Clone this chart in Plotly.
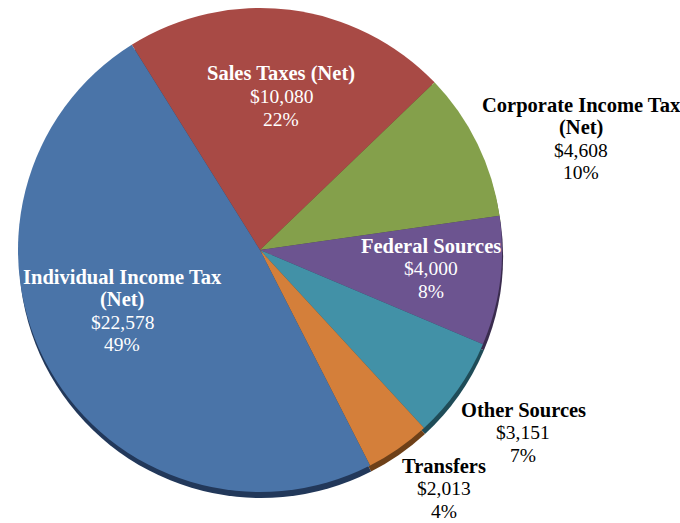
import plotly.graph_objects as go

categories = ["Sales Taxes (Net)", "Corporate Income Tax (Net)", "Federal Sources",
              "Other Sources", "Transfers", "Individual Income Tax (Net)"]
values = [10080, 4608, 4000, 3151, 2013, 22578]
pct_labels = ["22%", "10%", "8%", "7%", "4%", "49%"]
name_lines = [["Sales Taxes (Net)"], ["Corporate Income Tax", "(Net)"], ["Federal Sources"],
              ["Other Sources"], ["Transfers"], ["Individual Income Tax", "(Net)"]]
colors = ["#A84A45", "#84A04B", "#6C5490", "#4291A7", "#D47F3A", "#4A74A8"]
shadow_colors = ["#5a2522", "#45552a", "#3a2c4e", "#1f4c58", "#6e4018", "#22385a"]

W, H = 680, 523
# pie placement (pixels)
left, right, top, bottom = 12, 508, 8, 492

fig = go.Figure()
# shadow pie (same data, darker, slightly offset downward)
fig.add_trace(go.Pie(
    labels=categories, values=values, sort=False, direction="clockwise",
    rotation=-32, marker=dict(colors=shadow_colors, line=dict(width=0)),
    textinfo="none", hoverinfo="skip", showlegend=False,
    domain=dict(x=[(left + 1) / W, (right + 1) / W],
                y=[1 - (bottom + 6) / H, 1 - (top + 6) / H]),
))
fig.add_trace(go.Pie(
    labels=categories, values=values, sort=False, direction="clockwise",
    rotation=-32, marker=dict(colors=colors, line=dict(width=0)),
    textinfo="none", showlegend=False,
    domain=dict(x=[left / W, right / W], y=[1 - bottom / H, 1 - top / H]),
))

# label block positions: center x, first line middle y (pixels)
label_pos = [(281, 74), (581, 105), (431, 246), (523, 410), (444, 466), (122, 277)]
label_col = ["white", "black", "white", "black", "black", "white"]
line_gap = 22.6

for names, v, p, (px, py), c in zip(name_lines, values, pct_labels, label_pos, label_col):
    lines = [(f"<b>{n}</b>", 20.5) for n in names] + [(f"${v:,}", 19.5), (p, 19.5)]
    for i, (txt, sz) in enumerate(lines):
        fig.add_annotation(
            x=px / W, y=1 - (py + i * line_gap) / H, xref="paper", yref="paper",
            text=txt, showarrow=False, xanchor="center", yanchor="middle",
            font=dict(family="Liberation Serif", size=sz, color=c),
        )

fig.update_layout(
    width=W, height=H, margin=dict(l=0, r=0, t=0, b=0),
    paper_bgcolor="white", plot_bgcolor="white",
)
fig.write_html("out.html", config={"displayModeBar": False},
               post_script="document.body.style.margin='0px';")
